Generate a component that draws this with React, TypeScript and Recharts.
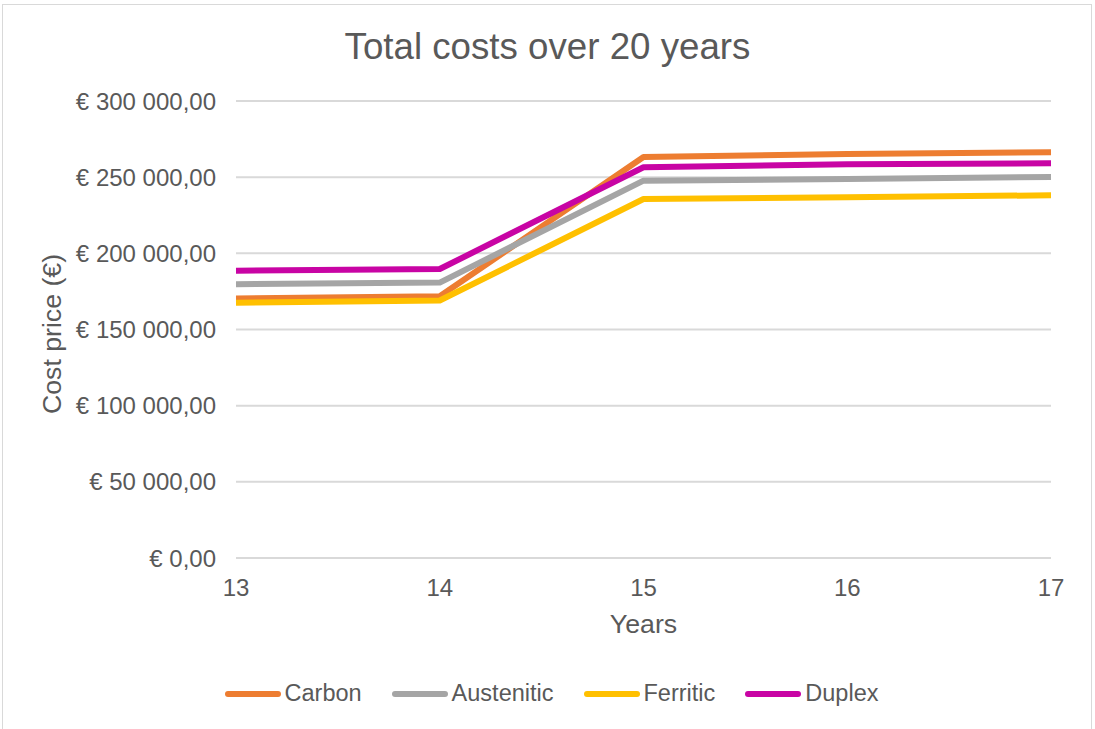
import { LineChart, Line, XAxis, YAxis, CartesianGrid, Legend } from "recharts";

const years = ["13", "14", "15", "16", "17"];
const carbon = [170300, 171800, 263300, 265200, 266300];
const austenitic = [179700, 180800, 247700, 248800, 250100];
const ferritic = [167600, 169000, 235700, 236800, 238100];
const duplex = [188600, 189700, 256500, 258400, 259100];
const yTicks = [0, 50000, 100000, 150000, 200000, 250000, 300000];

const seriesList = [
  { key: "Carbon", values: carbon, color: "#ED7D31" },
  { key: "Austenitic", values: austenitic, color: "#A5A5A5" },
  { key: "Ferritic", values: ferritic, color: "#FFC000" },
  { key: "Duplex", values: duplex, color: "#C804A4" },
];

const data = years.map((year, i) => {
  const row: Record<string, string | number> = { year };
  seriesList.forEach((s) => {
    row[s.key] = s.values[i];
  });
  return row;
});

const FONT = "'Liberation Sans', Arial, sans-serif";
const TEXT = "#595959";

function formatEuro(v: number) {
  const whole = Math.round(v)
    .toString()
    .replace(/\B(?=(\d{3})+(?!\d))/g, " ");
  return `€ ${whole},00`;
}

function LegendContent() {
  return (
    <div
      style={{
        display: "flex",
        justifyContent: "center",
        alignItems: "center",
        fontFamily: FONT,
        fontSize: 23.5,
        color: TEXT,
        paddingLeft: 8,
      }}
    >
      {seriesList.map((s, i) => (
        <div
          key={s.key}
          style={{ display: "flex", alignItems: "center", marginLeft: i === 0 ? 0 : 30 }}
        >
          <div
            style={{
              width: 56,
              height: 6,
              borderRadius: 3,
              background: s.color,
              marginRight: 4,
            }}
          />
          <span>{s.key}</span>
        </div>
      ))}
    </div>
  );
}

export default function App() {
  return (
    <div
      style={{
        position: "absolute",
        left: 0,
        top: 0,
        width: 1095,
        height: 729,
        background: "#fff",
        overflow: "hidden",
      }}
    >
      <div
        style={{
          position: "absolute",
          left: 2,
          top: 4,
          width: 1090,
          height: 760,
          border: "1px solid #D9D9D9",
          boxSizing: "border-box",
        }}
      />
      <div
        style={{
          position: "absolute",
          top: 29,
          left: 0,
          width: 1095,
          textAlign: "center",
          fontFamily: FONT,
          fontSize: 36.7,
          lineHeight: "36.7px",
          color: TEXT,
        }}
      >
        Total costs over 20 years
      </div>
      <div style={{ position: "absolute", left: 0, top: 0 }}>
        <LineChart
          width={1095}
          height={729}
          data={data}
          margin={{ top: 101, right: 44, left: 0, bottom: 71 }}
        >
          <CartesianGrid horizontal vertical={false} stroke="#D9D9D9" strokeWidth={2} />
          <XAxis
            dataKey="year"
            height={100}
            axisLine={false}
            tickLine={false}
            tickSize={0}
            tickMargin={21}
            tick={{ fill: TEXT, fontSize: 24, fontFamily: FONT }}
            label={{
              content: () => (
                <text
                  x={643.5}
                  y={624}
                  textAnchor="middle"
                  dominantBaseline="central"
                  fill={TEXT}
                  fontSize={26.7}
                  fontFamily={FONT}
                >
                  Years
                </text>
              ),
            }}
          />
          <YAxis
            width={236}
            domain={[0, 300000]}
            ticks={yTicks}
            interval={0}
            axisLine={false}
            tickLine={false}
            tickSize={0}
            tickMargin={20}
            tickFormatter={formatEuro}
            tick={{ fill: TEXT, fontSize: 24, fontFamily: FONT }}
            label={{
              content: () => (
                <text
                  x={52}
                  y={334}
                  transform="rotate(-90, 52, 334)"
                  textAnchor="middle"
                  dominantBaseline="central"
                  fill={TEXT}
                  fontSize={26.7}
                  fontFamily={FONT}
                >
                  Cost price (€)
                </text>
              ),
            }}
          />
          {seriesList.map((s) => (
            <Line
              key={s.key}
              type="linear"
              dataKey={s.key}
              stroke={s.color}
              strokeWidth={6}
              strokeLinejoin="round"
              dot={false}
              activeDot={false}
              isAnimationActive={false}
            />
          ))}
          <Legend
            verticalAlign="middle"
            layout="horizontal"
            content={LegendContent}
            wrapperStyle={{ top: 680, left: 0, width: 1095 }}
          />
        </LineChart>
      </div>
    </div>
  );
}
